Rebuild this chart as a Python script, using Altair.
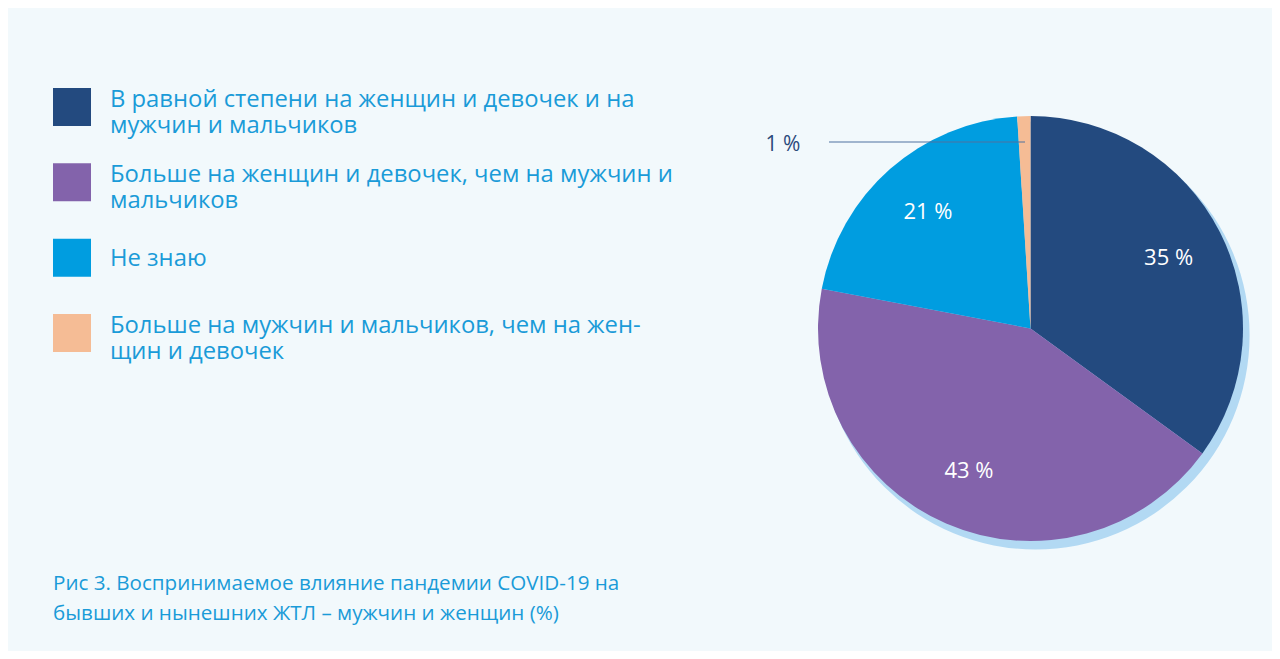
import altair as alt
import pandas as pd

# ---- data ----
categories = [
    "В равной степени на женщин и девочек и на мужчин и мальчиков",
    "Больше на женщин и девочек, чем на мужчин и мальчиков",
    "Не знаю",
    "Больше на мужчин и мальчиков, чем на женщин и девочек",
]
legend_labels = [
    "В равной степени на женщин и девочек и на\nмужчин и мальчиков",
    "Больше на женщин и девочек, чем на мужчин и\nмальчиков",
    "Не знаю",
    "Больше на мужчин и мальчиков, чем на жен-\nщин и девочек",
]
values = [35, 43, 21, 1]
pct_labels = ["35 %", "43 %", "21 %", "1 %"]
colors = ["#234a7f", "#8363ab", "#009de0", "#f5bc95"]
caption = "Рис 3. Воспринимаемое влияние пандемии COVID-19 на\nбывших и нынешних ЖТЛ – мужчин и женщин (%)"

df = pd.DataFrame({
    "idx": list(range(len(categories))),
    "category": categories,
    "legend": legend_labels,
    "value": values,
    "pct": pct_labels,
    "nlines": [len(s.split("\n")) for s in legend_labels],
})

FONT = "Open Sans"
TEXT_BLUE = "#1a9bd8"
W, H = 1264, 643
CX, CY, R = 1022.5, 320.5, 212.5

base = alt.Chart(df)

color_scale = alt.Scale(domain=categories, range=colors)

shadow = alt.Chart(pd.DataFrame({"a": [1]})).mark_arc(
    theta=0, theta2=6.2832, radius=214, color="#b2d9f3"
).encode(x=alt.value(CX + 5), y=alt.value(CY + 7))

pie = base.mark_arc(radius=R, stroke=None).encode(
    theta=alt.Theta("value:Q", stack=True),
    color=alt.Color("category:N", scale=color_scale, legend=None),
    order=alt.Order("idx:Q"),
    x=alt.value(CX),
    y=alt.value(CY),
)

inside = base.transform_calculate(
    lab="datum.value > 1 ? datum.pct : ''"
).mark_text(radius=155, font=FONT, fontSize=22, color="white").encode(
    theta=alt.Theta("value:Q", stack=True),
    detail="category:N",
    order=alt.Order("idx:Q"),
    text="lab:N",
    x=alt.value(CX),
    y=alt.value(CY),
)

small = base.transform_filter("datum.value <= 1")
leader = small.mark_rule(color="#4f72a0", strokeWidth=1.2).encode(
    x=alt.value(821), x2=alt.value(1017), y=alt.value(134)
)
outside = small.mark_text(
    font=FONT, fontSize=21, color="#2b4a7b", align="center", baseline="middle"
).encode(text="pct:N", x=alt.value(775), y=alt.value(137))

row_y = alt.Y("idx:Q", scale=alt.Scale(domain=[0, 3], range=[99, 325]), axis=None)

squares = base.mark_square(size=1444, opacity=1).encode(
    x=alt.value(64),
    y=row_y,
    color=alt.Color("category:N", scale=color_scale, legend=None),
)

leg_multi = base.transform_filter("datum.nlines > 1").mark_text(
    font=FONT, fontSize=23.8, lineHeight=26, lineBreak="\n", color=TEXT_BLUE,
    align="left", baseline="top", dy=-19,
).encode(x=alt.value(102), y=row_y, text="legend:N")

leg_single = base.transform_filter("datum.nlines == 1").mark_text(
    font=FONT, fontSize=23.8, color=TEXT_BLUE, align="left", baseline="middle", dy=1.5,
).encode(x=alt.value(102), y=row_y, text="legend:N")

cap = alt.Chart(pd.DataFrame({"t": [caption]})).mark_text(
    font=FONT, fontSize=20.6, lineHeight=30, lineBreak="\n", color=TEXT_BLUE,
    align="left", baseline="top",
).encode(x=alt.value(45), y=alt.value(566), text="t:N")

chart = alt.layer(
    shadow, pie, inside, leader, outside, squares, leg_multi, leg_single, cap
).properties(
    width=W, height=H, autosize=alt.AutoSizeParams(type="none"), padding=0,
    background="#f2f9fc",
).configure_view(stroke=None)

chart.save("out.html", embed_options={"renderer": "svg", "actions": False})
